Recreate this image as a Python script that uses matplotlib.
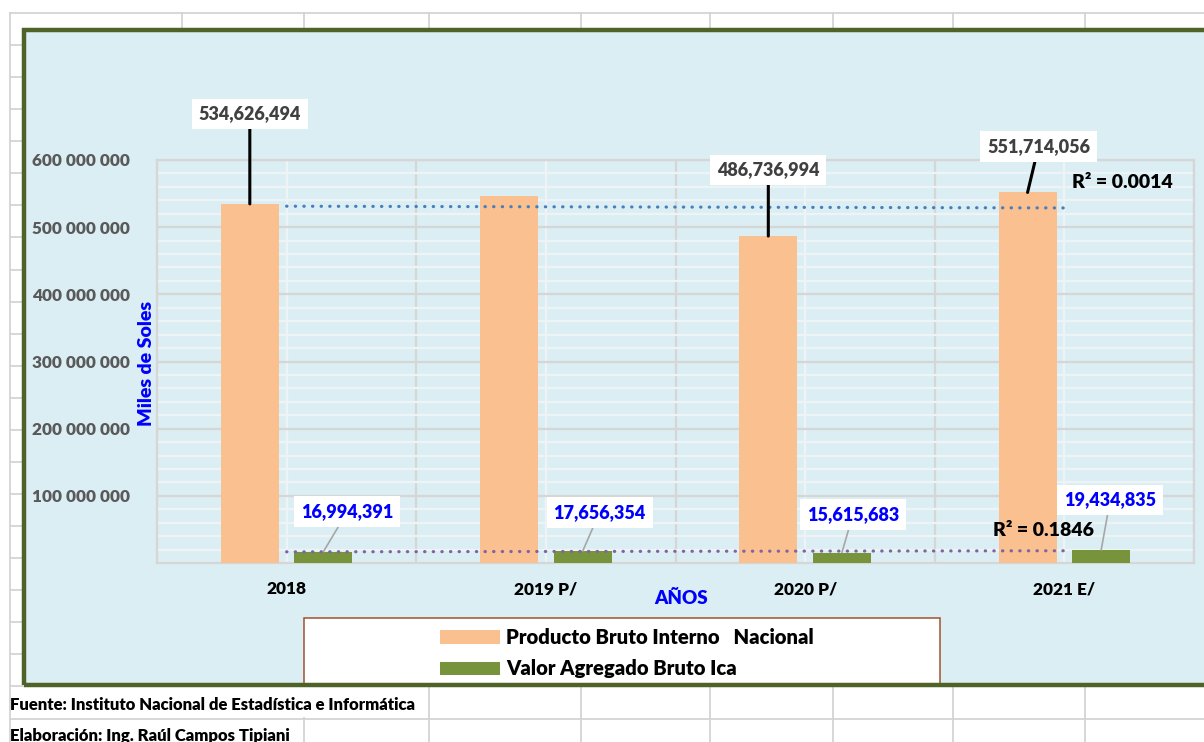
import numpy as np
import matplotlib
matplotlib.use("Agg")
import matplotlib.pyplot as plt
from matplotlib.patches import Rectangle
from matplotlib.lines import Line2D
from matplotlib.ticker import MultipleLocator, FuncFormatter

plt.rcParams['font.family'] = ['Lato', 'DejaVu Sans']
plt.rcParams['font.weight'] = 'heavy'

# data (miles de soles)
years = ["2018", "2019 P/", "2020 P/", "2021 E/"]
pbi_nacional = [534626494, 546605380, 486736994, 551714056]
vab_ica = [16994391, 17656354, 15615683, 19434835]
pbi_label = ["534,626,494", None, "486,736,994", "551,714,056"]
vab_label = ["16,994,391", "17,656,354", "15,615,683", "19,434,835"]
r2_texts = ["R² = 0.0014", "R² = 0.1846"]
series_names = ["Producto Bruto Interno   Nacional", "Valor Agregado Bruto Ica"]

# label offsets in pixels from the bar top
pbi_off = [(0, 90), None, (0, 66), (11, 46)]
vab_off = [(24, 40), (17, 39), (11, 38), (9, 50)]

W, H = 1204, 742
fx = lambda x: x / W
fy = lambda y: 1 - y / H

fig = plt.figure(figsize=(W / 100, H / 100), dpi=100)
fig.patch.set_facecolor("white")

# spreadsheet cell grid behind the chart
cell = "#D4D4D4"
for k in range(24):
    y = 13 + 32.07 * k
    fig.add_artist(Line2D([fx(10), 1], [fy(y), fy(y)], color=cell, lw=1.3, zorder=-3))
fig.add_artist(Line2D([fx(10), fx(10)], [fy(13), 0], color=cell, lw=1.3, zorder=-3))
for x in [182, 304, 429, 581, 710, 833, 953, 1085]:
    fig.add_artist(Line2D([fx(x), fx(x)], [fy(13), fy(30)], color=cell, lw=1.3, zorder=-3))
    if x > 420:
        fig.add_artist(Line2D([fx(x), fx(x)], [fy(686), 0], color=cell, lw=1.3, zorder=-3))
    elif x > 300:
        fig.add_artist(Line2D([fx(x), fx(x)], [fy(718), 0], color=cell, lw=1.3, zorder=-3))

# chart area: fill below, border drawn last
fig.add_artist(Rectangle((fx(24), fy(685)), fx(1230) - fx(24), fy(30) - fy(685),
                         facecolor="#DBEEF4", edgecolor="none", zorder=-1))
fig.add_artist(Rectangle((fx(24), fy(685)), fx(1230) - fx(24), fy(30) - fy(685),
                         facecolor="none", edgecolor="#4F6228", lw=3.2, zorder=8))

ax = fig.add_axes([fx(157), fy(563), fx(1194) - fx(157), fy(160) - fy(563)])
ax.set_facecolor("none")
ax.set_zorder(2)

x = np.arange(len(years))
bw = 0.224
off = 0.142
b1 = ax.bar(x - off, pbi_nacional, bw, color="#FAC090", zorder=3, label=series_names[0])
b2 = ax.bar(x + off, vab_ica, bw, color="#77933C", zorder=3, label=series_names[1])

ax.set_xlim(-0.5, 3.5)
ax.set_ylim(0, 600e6)

# trend lines
for vals, col in [(pbi_nacional, "#4A7EBB"), (vab_ica, "#8064A2")]:
    p = np.polyfit(x, vals, 1)
    ax.plot([0, 3], np.polyval(p, [0, 3]), color=col, lw=2.3,
            linestyle=(0, (0.1, 2.6)), dash_capstyle="round", zorder=4)

# grid
ax.set_yticks(np.arange(100e6, 600e6 + 1, 100e6))
ax.yaxis.set_minor_locator(MultipleLocator(20e6))
ax.set_xticks(x)
ax.set_xticks(np.arange(-0.5, 3.6, 1), minor=True)
ax.grid(which="minor", axis="y", color="#EEF4F6", lw=1.6, zorder=0)
ax.grid(which="major", axis="y", color="#D6D6D6", lw=1.6, zorder=1)
ax.grid(which="major", axis="x", color="#EEF4F6", lw=1.6, zorder=0)
ax.grid(which="minor", axis="x", color="#D6D6D6", lw=1.6, zorder=1)
for s in ax.spines.values():
    s.set_color("#D6D6D6")
    s.set_linewidth(1.6)

ax.yaxis.set_major_formatter(FuncFormatter(lambda v, p: f"{int(v):,}".replace(",", " ")))
ax.tick_params(axis="y", which="both", length=0, pad=19.5, labelsize=12.4, labelcolor="#595959")
ax.tick_params(axis="x", which="both", length=0, pad=13, labelsize=12.4, labelcolor="black")
ax.set_xticklabels(years)

# data labels
for i in range(len(years)):
    if pbi_label[i] is not None:
        ax.annotate(pbi_label[i], xy=(x[i] - off, pbi_nacional[i]), xytext=pbi_off[i],
                    textcoords="offset pixels", ha="center", va="center", fontsize=13,
                    color="#404040", annotation_clip=False, zorder=6,
                    bbox=dict(boxstyle="square,pad=0.38", fc="white", ec="none"),
                    arrowprops=dict(arrowstyle="-", color="black", lw=2.2, shrinkA=0, shrinkB=0))
    ax.annotate(vab_label[i], xy=(x[i] + off, vab_ica[i]), xytext=vab_off[i],
                textcoords="offset pixels", ha="center", va="center", fontsize=13,
                color="#0000FF", annotation_clip=False, zorder=6,
                bbox=dict(boxstyle="square,pad=0.38", fc="white", ec="none"),
                arrowprops=dict(arrowstyle="-", color="#A6A6A6", lw=1.2, shrinkA=0, shrinkB=0))

fig.text(fx(1072), fy(183), r2_texts[0], fontsize=14, color="black", va="center", ha="left", zorder=6)
fig.text(fx(993), fy(530), r2_texts[1], fontsize=14, color="black", va="center", ha="left", zorder=6)

# axis titles
fig.text(fx(146), fy(363), "Miles de Soles", rotation=90, fontsize=14, color="#0000FF",
         ha="center", va="center")
fig.text(fx(681), fy(598), "AÑOS", fontsize=13.5, color="#0000FF", ha="center", va="center")

# legend box (bottom hidden under the chart border)
fig.add_artist(Rectangle((fx(304), fy(686)), fx(940) - fx(304), fy(618) - fy(686),
                         facecolor="white", edgecolor="#A0522D", lw=1.1, zorder=1))
fig.legend(handles=[b1, b2], labels=series_names, loc="upper left", frameon=False,
           bbox_to_anchor=(fx(432), fy(620)), fontsize=14.6, handlelength=2.95,
           handleheight=0.62, handletextpad=0.3, labelspacing=0.6, borderaxespad=0)

# source notes
fig.text(fx(10), fy(705), "Fuente: Instituto Nacional de Estadística e Informática",
         fontsize=12, ha="left", va="center")
fig.text(fx(10), fy(736), "Elaboración: Ing. Raúl Campos Tipiani",
         fontsize=12, ha="left", va="center")

fig.savefig("out.png", dpi=100)
